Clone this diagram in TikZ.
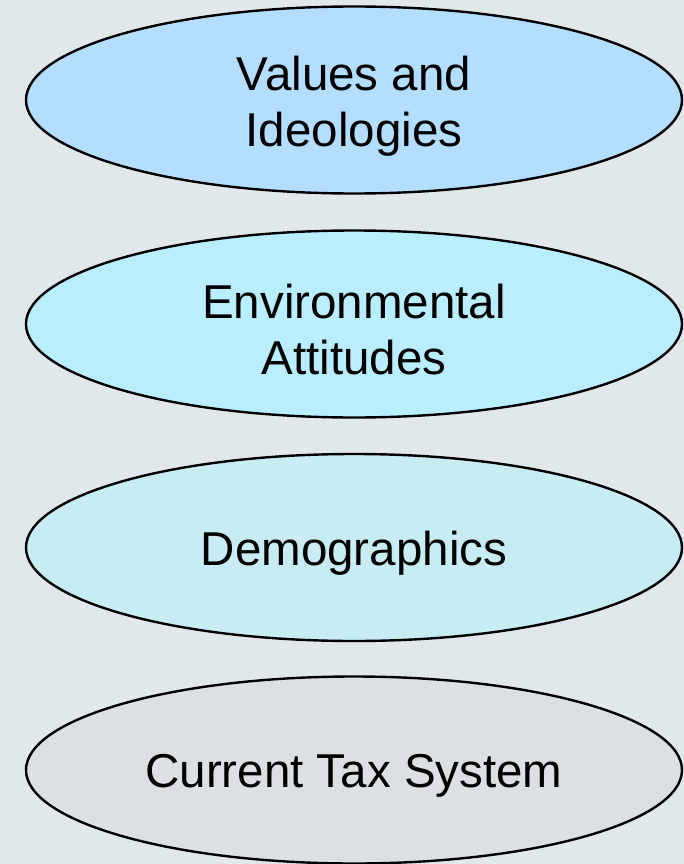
\documentclass[tikz,border=0pt]{standalone}
\usepackage{fontspec}
\setmainfont{Liberation Sans}
\usepackage{tikz}
\usetikzlibrary{shapes.geometric,positioning}

\definecolor{bgcol}{RGB}{225,232,235}
\definecolor{valcol}{RGB}{179,222,255}
\definecolor{envcol}{RGB}{185,238,255}
\definecolor{demcol}{RGB}{199,236,244}
\definecolor{taxcol}{RGB}{220,224,227}

\tikzset{
  factor/.style={ellipse, draw=black, line width=2.4pt, minimum width=656pt,
    minimum height=187pt, inner sep=0pt},
  factortext/.style={align=center, yshift=-6pt,
    font=\fontsize{47.5}{56}\selectfont}
}

\begin{document}
\begin{tikzpicture}[x=1pt,y=-1pt]
%background
\fill[bgcol] (0,0) rectangle (684,864);
\useasboundingbox (0,0) rectangle (684,864);
%draw the four factors, top to bottom
\node[factor, fill=valcol, label={[factortext]center:{Values and\\Ideologies}}] (values) at (354,100) {};
\node[factor, fill=envcol, label={[factortext]center:{Environmental\\Attitudes}}] (attitudes) at (354,324) {};
\node[factor, fill=demcol, label={[factortext]center:{Demographics}}] (demog) at (354,547.5) {};
\node[factor, fill=taxcol, label={[factortext]center:{Current Tax System}}] (taxsys) at (354,770) {};
\end{tikzpicture}
\end{document}
